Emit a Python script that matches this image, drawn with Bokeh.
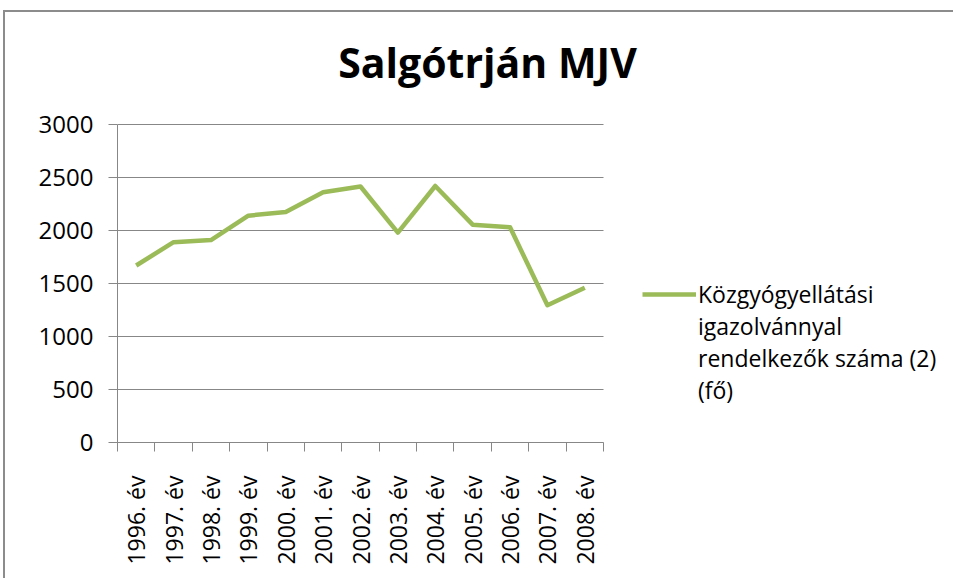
import math
from bokeh.plotting import figure
from bokeh.models import Range1d, FixedTicker, Legend, LegendItem, Label
from bokeh.embed import file_html
from bokeh.resources import INLINE

# ---- data ----
years = ["1996. év", "1997. év", "1998. év", "1999. év", "2000. év", "2001. év",
         "2002. év", "2003. év", "2004. év", "2005. év", "2006. év", "2007. év", "2008. év"]
values = [1670, 1890, 1910, 2140, 2175, 2360, 2415, 1980, 2420, 2055, 2030, 1295, 1460]
series_lines = ["Közgyógyellátási", "igazolvánnyal", "rendelkezők száma (2)", "(fő)"]
title_text = "Salgótrján MJV"
y_ticks = [0, 500, 1000, 1500, 2000, 2500, 3000]
y_max = 3000

n = len(years)
xs = [i + 0.5 for i in range(n)]
boundaries = list(range(n + 1))

FONT = "Open Sans"
GRID = "#878787"

# layout: the frame covers the whole canvas right of / above the axes; the
# data part occupies only DATA_W x DATA_H pixels of it, so that the title and
# the legend can sit inside the frame.
W, H = 950, 568
LEFT, RIGHT, TOP, BOTTOM = 112, 0, 0, 138
FRAME_W = W - LEFT - RIGHT
FRAME_H = H - TOP - BOTTOM
DATA_W, DATA_H = 486, 318
x_end = n * FRAME_W / DATA_W
y_end = y_max * FRAME_H / DATA_H

p = figure(width=W, height=H, output_backend="svg", toolbar_location=None,
           x_range=Range1d(0, x_end), y_range=Range1d(0, y_end),
           min_border_left=LEFT, min_border_right=RIGHT, min_border_top=TOP,
           min_border_bottom=BOTTOM)
p.styles = {"margin-top": "10px", "margin-left": "3px",
            "border-top": "2px solid #8c8c8c", "border-left": "2px solid #8c8c8c"}
p.outline_line_color = None
p.background_fill_color = "white"
p.border_fill_color = "white"

# horizontal gridlines limited to the data area
p.xgrid.grid_line_color = None
p.ygrid.grid_line_color = None
p.segment(x0=[0] * len(y_ticks), x1=[n] * len(y_ticks), y0=y_ticks, y1=y_ticks,
          line_color=GRID, line_width=1)

# y axis
p.yaxis.bounds = (0, y_max)
p.yaxis.ticker = FixedTicker(ticks=y_ticks)
p.yaxis.axis_line_color = GRID
p.yaxis.major_tick_line_color = GRID
p.yaxis.major_tick_out = 9
p.yaxis.major_tick_in = 0
p.yaxis.minor_tick_line_color = None
p.yaxis.major_label_standoff = 15
p.yaxis.major_label_text_font = FONT
p.yaxis.major_label_text_font_size = "24px"
p.yaxis.major_label_text_color = "black"

# x axis
p.xaxis.bounds = (0, n)
p.xaxis.ticker = FixedTicker(ticks=xs, minor_ticks=boundaries)
p.xaxis.major_label_overrides = {x: lab for x, lab in zip(xs, years)}
p.xaxis.axis_line_color = GRID
p.xaxis.major_tick_line_color = None
p.xaxis.major_tick_out = 0
p.xaxis.major_tick_in = 0
p.xaxis.minor_tick_line_color = GRID
p.xaxis.minor_tick_out = 9
p.xaxis.minor_tick_in = 0
p.xaxis.major_label_orientation = math.pi / 2
p.xaxis.major_label_standoff = 24
p.xaxis.major_label_text_font = FONT
p.xaxis.major_label_text_font_size = "23px"
p.xaxis.major_label_text_color = "black"

r = p.line(x=xs, y=values, line_color="#9BBB59", line_width=4.5, line_join="round")
# invisible renderer to carry the continuation lines of the legend label
blank = p.line(x=[], y=[], line_color=None)

items = [LegendItem(label=series_lines[0], renderers=[r])]
for extra in series_lines[1:]:
    items.append(LegendItem(label=extra, renderers=[blank]))

legend = Legend(items=items, location=(525, 36), glyph_width=54, glyph_height=30,
                label_height=30, label_standoff=2, padding=0, margin=0, spacing=0,
                border_line_color=None, background_fill_alpha=0,
                label_text_font=FONT, label_text_font_size="23px",
                label_text_color="black")
p.add_layout(legend)

title = Label(x=370, y=381, x_units="screen", y_units="screen", text=title_text,
              text_align="center", text_baseline="alphabetic", text_font=FONT,
              text_font_style="bold", text_font_size="41px", text_color="black")
p.add_layout(title)

open("out.html", "w").write(file_html(p, INLINE))
